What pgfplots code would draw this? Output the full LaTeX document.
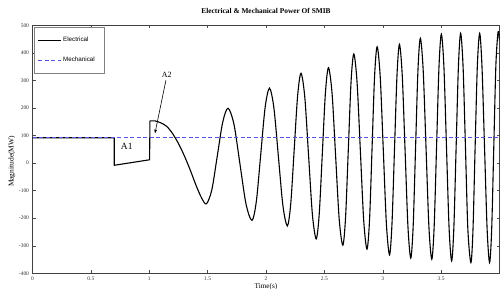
\documentclass[border=0pt]{standalone}
\usepackage{fontspec}
\setmainfont{Liberation Serif}
\setsansfont{Liberation Sans}
\usepackage{pgfplots}
\pgfplotsset{compat=1.18}
\usetikzlibrary{arrows.meta}
\definecolor{mblue}{RGB}{85,85,228}
\begin{document}
\begin{tikzpicture}
\useasboundingbox (0,0) rectangle (500bp,289bp);
\begin{axis}[
  at={(32.5bp,15.7bp)}, anchor=south west,
  scale only axis, width=467bp, height=248bp,
  xmin=0, xmax=4, ymin=-400, ymax=500,
  xtick={0,0.5,1,1.5,2,2.5,3,3.5,4},
  xticklabels={0,0.5,1,1.5,2,2.5,3,3.5,},
  ytick={-400,-300,-200,-100,0,100,200,300,400,500},
  yticklabels={-400,-300,-200,-100,0,100,200,300,400,500},
  tick align=inside, major tick length=3bp,
  tick style={gray!60!black, line width=0.4bp},
  axis line style={gray!50!black, line width=0.5bp},
  tick label style={font=\fontsize{5.5}{6}\selectfont, text=black!80},
  title={Electrical \& Mechanical Power Of SMIB},
  title style={at={(axis description cs:0.5,1.0335)}, anchor=center, font=\bfseries\fontsize{7.4}{8}\selectfont},
  xlabel={Time(s)},
  xlabel style={at={(axis description cs:0.5,-0.055)}, anchor=center, font=\fontsize{7.3}{8}\selectfont},
  ylabel={Magnitude(MW)},
  ylabel style={at={(axis description cs:-0.044,0.451)}, anchor=center, font=\fontsize{7.5}{8}\selectfont},
  legend image code/.code={\draw[#1] (0bp,0bp) -- (23bp,0bp);},
  legend style={at={(axis description cs:0.004,0.993)}, anchor=north west, draw=gray, fill=white,
    font=\sffamily\fontsize{6.3}{7}\selectfont, inner xsep=3bp, inner ysep=9bp, row sep=12bp,
    nodes={inner sep=1bp}},
  legend cell align=left,
]
\addplot[color=black, line width=1.1bp, line join=round] coordinates {
(0,92) (0.70,92) (0.70,-8) (1.003,12) (1.006,153) (1.05,153)
};
\addlegendentry{\makebox[37bp][l]{Electrical}}
\addplot[color=black, line width=1.1bp, smooth, forget plot] coordinates {
(1.05,153) (1.10,146) (1.15,133) (1.20,107) (1.25,71) (1.30,27) (1.35,-24) (1.40,-80) (1.45,-128) (1.49,-148)
(1.536,-97) (1.5825,25) (1.629,148) (1.675,199) (1.726,140) (1.7775,-5) (1.829,-149) (1.88,-208)
(1.9175,-138) (1.955,32) (1.9925,202) (2.03,272) (2.068,199) (2.1065,22) (2.145,-155) (2.183,-228)
(2.212,-147) (2.2415,49) (2.271,245) (2.30,326) (2.3325,238) (2.365,25) (2.3975,-187) (2.43,-275)
(2.456,-184) (2.4825,35) (2.509,255) (2.535,346) (2.566,252) (2.5965,24) (2.627,-204) (2.658,-298)
(2.6815,-197) (2.705,49) (2.7285,295) (2.752,396) (2.780,293) (2.8085,42) (2.837,-209) (2.865,-312)
(2.887,-205) (2.9085,55) (2.930,315) (2.952,422) (2.9785,312) (3.005,44) (3.0315,-223) (3.058,-333)
(3.079,-221) (3.1005,49) (3.122,319) (3.143,431) (3.167,318) (3.1915,43) (3.216,-232) (3.24,-345)
(3.2605,-229) (3.281,54) (3.3015,337) (3.322,453) (3.3465,335) (3.371,52) (3.3955,-232) (3.42,-349)
(3.4405,-229) (3.461,60) (3.4815,348) (3.502,468) (3.524,348) (3.546,57) (3.568,-234) (3.59,-355)
(3.609,-235) (3.6285,58) (3.648,350) (3.667,471) (3.688,350) (3.7085,55) (3.729,-240) (3.755,-361)
(3.773,-240) (3.791,55) (3.810,350) (3.83,471) (3.850,350) (3.872,55) (3.894,-240) (3.915,-361)
(3.933,-240) (3.951,58) (3.969,355) (3.988,477) (4.0,445)
};
\addplot[color=mblue, line width=1.5bp, dash pattern=on 4bp off 2.5bp, mark=none] coordinates {
(0,92) (4,92)
};
\addlegendentry{\makebox[37bp][l]{Mechanical}}
\node[font=\fontsize{9.5}{10}\selectfont] at (axis cs:0.807,59) {A1};
\node[font=\fontsize{8}{9}\selectfont] at (axis cs:1.149,320) {A2};
\draw[-{Stealth[length=4bp,width=3bp]}, black, line width=0.6bp] (axis cs:1.143,301) -- (axis cs:1.049,108);
\end{axis}
\end{tikzpicture}
\end{document}
